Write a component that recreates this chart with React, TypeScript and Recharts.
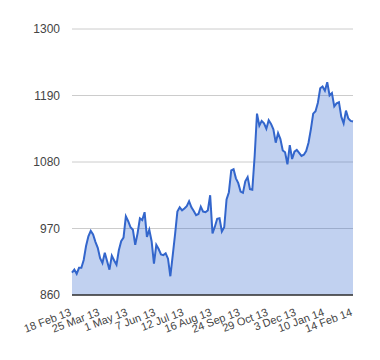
import { AreaChart, Area, XAxis, YAxis, CartesianGrid } from "recharts";

const tickLabels = [
  "18 Feb 13",
  "25 Mar 13",
  "1 May 13",
  "7 Jun 13",
  "12 Jul 13",
  "16 Aug 13",
  "24 Sep 13",
  "29 Oct 13",
  "3 Dec 13",
  "10 Jan 14",
  "14 Feb 14",
];

const yTicks = [860, 970, 1080, 1190, 1300];

// closing values, roughly every second trading day
const values = [
  897, 902, 895, 905, 905, 918, 941, 957, 966, 960,
  948, 938, 921, 913, 930, 916, 902, 925, 917, 910,
  934, 949, 955, 990, 982, 972, 968, 943, 962, 987,
  984, 997, 956, 968, 949, 912, 943, 936, 927, 926,
  929, 920, 891, 925, 960, 998, 1005, 1000, 1003, 1007,
  1015, 1005, 999, 992, 994, 1006, 998, 997, 1000, 1025,
  962, 973, 986, 987, 965, 972, 1018, 1030, 1066, 1068,
  1053, 1045, 1031, 1029, 1048, 1055, 1035, 1034, 1090, 1160,
  1140, 1148, 1144, 1135, 1149, 1143, 1134, 1112, 1128, 1118,
  1099, 1096, 1076, 1108, 1085, 1097, 1100, 1095, 1090, 1092,
  1098, 1112, 1134, 1160, 1164, 1178, 1202, 1205, 1198, 1212,
  1190, 1194, 1172, 1177, 1179, 1155, 1144, 1165, 1152, 1148,
  1147,
];

const data = values.map((v, i) => ({ idx: i, v }));
const step = 12;
const tickIdx = tickLabels.map((_, i) => i * step);
const lastIdx = (tickLabels.length - 1) * step;

const font = "Arial, 'Liberation Sans', sans-serif";

const SlantTick = (props: any) => {
  const { x, payload } = props;
  const label = tickLabels[Math.round(payload.value / step)] ?? "";
  const ty = 315;
  return (
    <text
      x={x}
      y={ty}
      textAnchor="end"
      fontSize={11}
      fontFamily={font}
      fill="#444"
      transform={`rotate(-21, ${x}, ${ty})`}
    >
      {label}
    </text>
  );
};

export default function App() {
  return (
    <div style={{ position: "absolute", left: 0, top: 0 }}>
      <AreaChart
        width={380}
        height={360}
        data={data}
        margin={{ top: 29, right: 27, left: 0, bottom: 5 }}
      >
        <CartesianGrid vertical={false} stroke="#cccccc" />
        <XAxis
          type="number"
          dataKey="idx"
          domain={[0, lastIdx]}
          ticks={tickIdx}
          interval={0}
          height={60}
          tickLine={false}
          axisLine={{ stroke: "#333333", strokeWidth: 1.5 }}
          tick={<SlantTick />}
        />
        <YAxis
          domain={[860, 1300]}
          ticks={yTicks}
          width={72}
          axisLine={false}
          tickLine={false}
          tickMargin={6}
          tick={{ fill: "#444", fontSize: 12, fontFamily: font }}
        />
        <Area
          type="linear"
          dataKey="v"
          stroke="#3366cc"
          strokeWidth={2}
          fill="#3366cc"
          fillOpacity={0.3}
          dot={false}
          activeDot={false}
          isAnimationActive={false}
        />
      </AreaChart>
    </div>
  );
}
